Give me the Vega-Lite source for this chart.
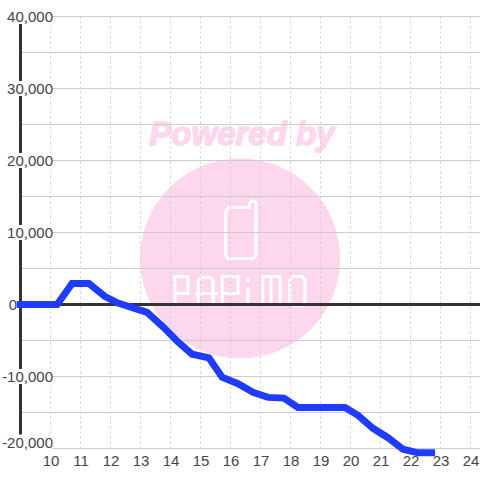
{
"$schema":"https://vega.github.io/schema/vega-lite/v6.json",
"width":459.5,"height":432,"autosize":"none",
"padding":{"left":20.5,"top":16.5,"right":0,"bottom":31.5},
"background":"#ffffff",
"config":{"view":{"stroke":null},"font":"Liberation Sans","axis":{"labelFontSize":15,"labelColor":"#444444","labelFont":"Liberation Sans","labelOverlap":false,"labelFlush":false,"labelBound":false}},
"datasets":{
"series":[{"h":8.88,"v":0},{"h":10.22,"v":0},{"h":10.72,"v":2917},{"h":11.28,"v":2917},{"h":11.82,"v":1111},{"h":12.25,"v":200},{"h":13.22,"v":-1100},{"h":13.75,"v":-3100},{"h":14.25,"v":-5200},{"h":14.72,"v":-6900},{"h":15.28,"v":-7400},{"h":15.72,"v":-10100},{"h":16.25,"v":-11000},{"h":16.75,"v":-12200},{"h":17.25,"v":-12900},{"h":17.78,"v":-13000},{"h":18.25,"v":-14300},{"h":19.82,"v":-14300},{"h":20.25,"v":-15400},{"h":20.75,"v":-17200},{"h":21.25,"v":-18500},{"h":21.75,"v":-20100},{"h":22.25,"v":-20600},{"h":22.82,"v":-20600}],
"hgrid":[{"v":40000},{"v":35000},{"v":30000},{"v":25000},{"v":20000},{"v":15000},{"v":10000},{"v":5000},{"v":-5000},{"v":-10000},{"v":-15000},{"v":-20000}],
"vgrid":[{"h":10},{"h":11},{"h":12},{"h":13},{"h":14},{"h":15},{"h":16},{"h":17},{"h":18},{"h":19},{"h":20},{"h":21},{"h":22},{"h":23},{"h":24}],
"backing":[{"v":40000},{"v":30000},{"v":20000},{"v":10000},{"v":-10000},{"v":-19100}],
"logo":[
{"g":"P1","o":0,"h":14.15,"v":-139},{"g":"P1","o":1,"h":14.15,"v":3889},{"g":"P1","o":2,"h":14.58,"v":3889},{"g":"P1","o":3,"h":14.58,"v":1528},{"g":"P1","o":4,"h":14.15,"v":1528},
{"g":"A1","o":0,"h":14.92,"v":-139},{"g":"A1","o":1,"h":14.92,"v":3333},{"g":"A1","o":2,"h":15.02,"v":3750},{"g":"A1","o":3,"h":15.32,"v":3750},{"g":"A1","o":4,"h":15.42,"v":3333},{"g":"A1","o":5,"h":15.42,"v":-139},
{"g":"A2","o":0,"h":14.82,"v":1528},{"g":"A2","o":1,"h":15.58,"v":1528},
{"g":"P2","o":0,"h":15.72,"v":-139},{"g":"P2","o":1,"h":15.72,"v":3889},{"g":"P2","o":2,"h":16.25,"v":3889},{"g":"P2","o":3,"h":16.25,"v":1528},{"g":"P2","o":4,"h":15.72,"v":1528},
{"g":"I1","o":0,"h":16.58,"v":-139},{"g":"I1","o":1,"h":16.58,"v":2361},
{"g":"I2","o":0,"h":16.58,"v":3056},{"g":"I2","o":1,"h":16.58,"v":3750},
{"g":"M1","o":0,"h":17.08,"v":-139},{"g":"M1","o":1,"h":17.08,"v":3889},{"g":"M1","o":2,"h":17.65,"v":3889},{"g":"M1","o":3,"h":17.65,"v":-139},
{"g":"M2","o":0,"h":17.35,"v":3889},{"g":"M2","o":1,"h":17.35,"v":-139},
{"g":"O","o":0,"h":17.98,"v":3472},{"g":"O","o":1,"h":18.08,"v":3889},{"g":"O","o":2,"h":18.38,"v":3889},{"g":"O","o":3,"h":18.48,"v":3472},{"g":"O","o":4,"h":18.48,"v":278},{"g":"O","o":5,"h":18.38,"v":-139},{"g":"O","o":6,"h":18.08,"v":-139},{"g":"O","o":7,"h":17.98,"v":278},{"g":"O","o":8,"h":17.98,"v":3472},
{"g":"Ph","o":0,"h":15.83,"v":12778},{"g":"Ph","o":1,"h":15.92,"v":13472},{"g":"Ph","o":2,"h":16.62,"v":13472},{"g":"Ph","o":3,"h":16.65,"v":14167},{"g":"Ph","o":4,"h":16.75,"v":14444},{"g":"Ph","o":5,"h":16.85,"v":14167},{"g":"Ph","o":6,"h":16.85,"v":6806},{"g":"Ph","o":7,"h":16.75,"v":6389},{"g":"Ph","o":8,"h":15.92,"v":6389},{"g":"Ph","o":9,"h":15.83,"v":6806},{"g":"Ph","o":10,"h":15.83,"v":12778}
]
},
"layer":[
{"data":{"values":[{"h":16.32,"v":6389}]},"mark":{"type":"point","shape":"circle","filled":true,"opacity":1,"color":"#fcd7ee","size":40000,"clip":false},
 "encoding":{
  "x":{"field":"h","type":"quantitative","scale":{"domain":[9,24.3167],"nice":false,"zero":false},
   "axis":{"title":null,"values":[10,11,12,13,14,15,16,17,18,19,20,21,22,23,24],"tickCount":16,"grid":false,"domain":false,"ticks":false,"labelFontSize":15,"labelPadding":5,"zindex":1}},
  "y":{"field":"v","type":"quantitative","scale":{"domain":[-20000,40000],"nice":false,"zero":false},
   "axis":{"title":null,"values":[40000,30000,20000,10000,0,-10000,-20000],"format":",d","labelExpr":"replace(datum.label,'−','-')","grid":false,"domain":false,"ticks":false,"labelFontSize":15,"labelPadding":{"expr":"datum.value===0?4:-32"},"labelOffset":{"expr":"datum.value===-20000?-6:0"},"zindex":1}}}},
{"data":{"values":[{"h":16.38,"v":23611,"t":"Powered by"}]},"mark":{"type":"text","font":"Liberation Sans","fontWeight":"bold","fontStyle":"italic","fontSize":33,"color":"#fcd7ee","stroke":"#fcd7ee","strokeWidth":1.5,"align":"center","baseline":"middle"},
 "encoding":{"x":{"field":"h","type":"quantitative"},"y":{"field":"v","type":"quantitative"},"text":{"field":"t"}}},
{"data":{"name":"logo"},"mark":{"type":"line","color":"#ffffff","strokeWidth":3,"clip":false},
 "encoding":{"x":{"field":"h","type":"quantitative"},"y":{"field":"v","type":"quantitative"},"detail":{"field":"g"},"order":{"field":"o"}}},
{"data":{"name":"hgrid"},"mark":{"type":"rule","color":"#cccccc","strokeWidth":1},"encoding":{"y":{"field":"v","type":"quantitative"}}},
{"data":{"name":"vgrid"},"mark":{"type":"rule","color":"#cccccc","strokeWidth":1,"strokeDash":[2,3]},"encoding":{"x":{"field":"h","type":"quantitative"}}},
{"data":{"values":[{"a":40000,"b":-20000}]},"mark":{"type":"rule","color":"#333333","strokeWidth":3},"encoding":{"x":{"datum":9,"type":"quantitative"},"y":{"field":"a","type":"quantitative"},"y2":{"field":"b"}}},
{"data":{"name":"backing"},"mark":{"type":"rule","color":"#ffffff","strokeWidth":15,"clip":false},"encoding":{"x":{"datum":8.5,"type":"quantitative"},"x2":{"datum":10.07},"y":{"field":"v","type":"quantitative"}}},
{"data":{"values":[{"v":0}]},"mark":{"type":"rule","color":"#333333","strokeWidth":3},"encoding":{"y":{"field":"v","type":"quantitative"}}},
{"data":{"name":"series"},"mark":{"type":"line","color":"#1f3bff","strokeWidth":7,"strokeCap":"butt","strokeJoin":"miter","clip":false},
 "encoding":{"x":{"field":"h","type":"quantitative"},"y":{"field":"v","type":"quantitative"}}}
]
}
